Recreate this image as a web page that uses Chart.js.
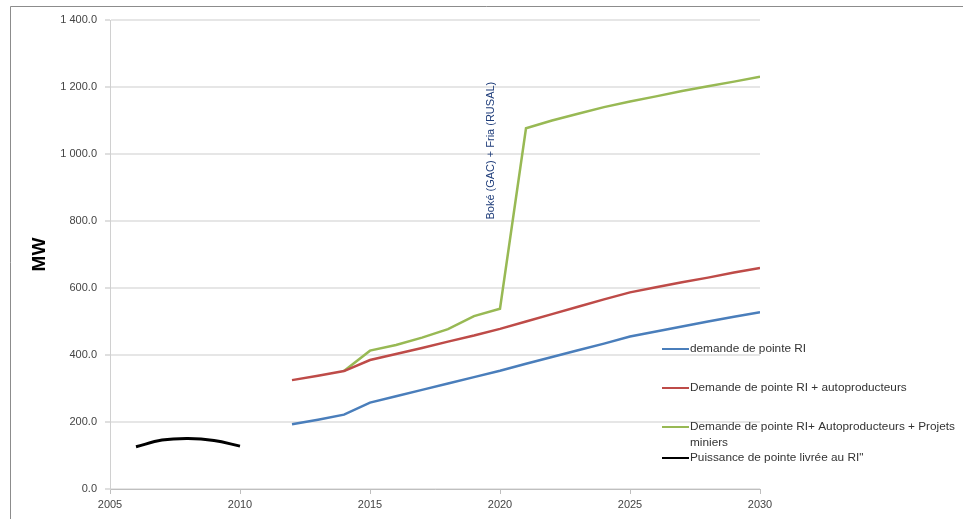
<!DOCTYPE html>
<html>
<head>
<meta charset="utf-8">
<script src="https://cdn.jsdelivr.net/npm/chart.js@4/dist/chart.umd.min.js"></script>
<style>
  html, body { margin: 0; padding: 0; background: #fff; }
  #wrap { width: 963px; height: 519px; position: relative; }
</style>
</head>
<body>
<div id="wrap"><canvas id="c" width="963" height="519"></canvas></div>
<script>
// Historical peak power delivered (MW)
const historyYears = [2006, 2007, 2008, 2009, 2010];
const puissanceLivree = [126, 146, 151, 145, 128];

// Forecast peak demand (MW)
const forecastYears = [2012, 2013, 2014, 2015, 2016, 2017, 2018, 2019, 2020, 2021,
                       2022, 2023, 2024, 2025, 2026, 2027, 2028, 2029, 2030];
const demandeRI = [193, 207, 222, 258, 277, 296, 315, 334, 353, 374,
                   394, 414, 434, 455, 470, 485, 500, 514, 528];
const demandeAuto = [325, 338, 352, 385, 403, 421, 440, 458, 478, 500,
                     522, 544, 566, 587, 602, 617, 631, 646, 660];

const minierYears = [2014, 2015, 2016, 2017, 2018, 2019, 2020, 2021, 2022,
                     2023, 2024, 2025, 2026, 2027, 2028, 2029, 2030];
const demandeMiniers = [352, 413, 430, 452, 477, 516, 538, 1077, 1100,
                        1120, 1140, 1157, 1172, 1188, 1202, 1216, 1231];

const seriesNames = [
  ['demande de pointe RI'],
  ['Demande de pointe RI + autoproducteurs'],
  ['Demande de pointe RI+ Autoproducteurs + Projets', 'miniers'],
  ['Puissance de pointe livrée au RI"']
];
const seriesColors = ['#4a7ebb', '#be4b48', '#98b954', '#000000'];

const annotationText = 'Boké (GAC) + Fria (RUSAL)';

const yTicks = [0, 200, 400, 600, 800, 1000, 1200, 1400];
const xTicks = [2005, 2010, 2015, 2020, 2025, 2030];

const pts = (xs, ys) => xs.map((x, i) => ({ x: x, y: ys[i] }));

function fmtMW(v) {
  if (v >= 1000) {
    return Math.floor(v / 1000) + ' ' + String(v % 1000).padStart(3, '0') + '.0';
  }
  return v.toFixed(1);
}

const FONT = '"Liberation Sans", Arial, sans-serif';

// Outer frame of the chart object
const framePlugin = {
  id: 'frame',
  beforeDraw(chart) {
    const ctx = chart.ctx;
    ctx.save();
    ctx.fillStyle = '#fff';
    ctx.fillRect(0, 0, chart.width, chart.height);
    ctx.strokeStyle = '#8c8c8c';
    ctx.lineWidth = 1;
    ctx.beginPath();
    ctx.moveTo(10.5, chart.height);
    ctx.lineTo(10.5, 6.5);
    ctx.lineTo(chart.width, 6.5);
    ctx.stroke();
    ctx.restore();
  }
};

// Vertical note next to the jump in mining demand
const notePlugin = {
  id: 'note',
  afterDatasetsDraw(chart, args, opts) {
    const ctx = chart.ctx;
    const x = chart.scales.x.getPixelForValue(opts.x);
    const y = chart.scales.y.getPixelForValue(opts.y);
    ctx.save();
    ctx.translate(x, y);
    ctx.rotate(-Math.PI / 2);
    ctx.font = '11px ' + FONT;
    ctx.fillStyle = '#1f3d7a';
    ctx.textAlign = 'center';
    ctx.textBaseline = 'middle';
    ctx.fillText(opts.text, 0, 0);
    ctx.restore();
  }
};

// Legend drawn on the right, over the plot
const legendPlugin = {
  id: 'sideLegend',
  afterDraw(chart, args, opts) {
    const ctx = chart.ctx;
    ctx.save();
    ctx.font = '11.8px ' + FONT;
    ctx.textBaseline = 'middle';
    ctx.textAlign = 'left';
    opts.rows.forEach((yRow, i) => {
      const ds = chart.data.datasets[i];
      ctx.strokeStyle = ds.borderColor;
      ctx.lineWidth = 2;
      ctx.beginPath();
      ctx.moveTo(opts.x, yRow);
      ctx.lineTo(opts.x + opts.lineLen, yRow);
      ctx.stroke();
      ctx.fillStyle = '#333';
      seriesNames[i].forEach((line, k) => {
        ctx.fillText(line, opts.x + opts.lineLen + 1, yRow + k * 16);
      });
    });
    ctx.restore();
  }
};

new Chart(document.getElementById('c'), {
  type: 'line',
  data: {
    datasets: [
      { label: seriesNames[0].join(' '), data: pts(forecastYears, demandeRI),
        borderColor: seriesColors[0], borderWidth: 2.5 },
      { label: seriesNames[1].join(' '), data: pts(forecastYears, demandeAuto),
        borderColor: seriesColors[1], borderWidth: 2.5 },
      { label: seriesNames[2].join(' '), data: pts(minierYears, demandeMiniers),
        borderColor: seriesColors[2], borderWidth: 2.5 },
      { label: seriesNames[3].join(' '), data: pts(historyYears, puissanceLivree),
        borderColor: seriesColors[3], borderWidth: 3, tension: 0.4 }
    ]
  },
  options: {
    responsive: false,
    animation: false,
    devicePixelRatio: 1,
    parsing: false,
    elements: { point: { radius: 0 }, line: { borderCapStyle: 'butt', tension: 0 } },
    layout: { padding: { left: 28, top: 20, right: 203, bottom: 0 } },
    plugins: {
      legend: { display: false },
      tooltip: { enabled: false },
      note: { x: 2019.65, y: 1010, text: annotationText },
      sideLegend: { x: 662, lineLen: 27, rows: [349, 388, 427, 458] }
    },
    scales: {
      x: {
        type: 'linear',
        min: xTicks[0],
        max: xTicks[xTicks.length - 1],
        afterBuildTicks: (s) => { s.ticks = xTicks.map(v => ({ value: v })); },
        afterFit: (s) => { s.height = 30; },
        ticks: {
          padding: 4,
          maxRotation: 0,
          color: '#444',
          font: { family: FONT, size: 11 },
          callback: (v) => String(v)
        },
        grid: { drawOnChartArea: false, tickLength: 5, color: '#bfbfbf' },
        border: { color: '#bfbfbf', width: 1 }
      },
      y: {
        min: 0,
        max: 1400,
        afterBuildTicks: (s) => { s.ticks = yTicks.map(v => ({ value: v })); },
        afterFit: (s) => { s.width = 82; },
        ticks: {
          padding: 8,
          color: '#444',
          font: { family: FONT, size: 11 },
          callback: (v) => fmtMW(v)
        },
        grid: { color: '#e6e6e6', lineWidth: 2, tickLength: 5, tickColor: '#bfbfbf', tickWidth: 1 },
        border: { color: '#d0d0d0', width: 1 },
        title: {
          display: true,
          text: 'MW',
          color: '#000',
          padding: { top: 0, bottom: 0 },
          font: { family: FONT, size: 19, weight: 'bold' }
        }
      }
    }
  },
  plugins: [framePlugin, notePlugin, legendPlugin]
});
</script>
</body>
</html>
